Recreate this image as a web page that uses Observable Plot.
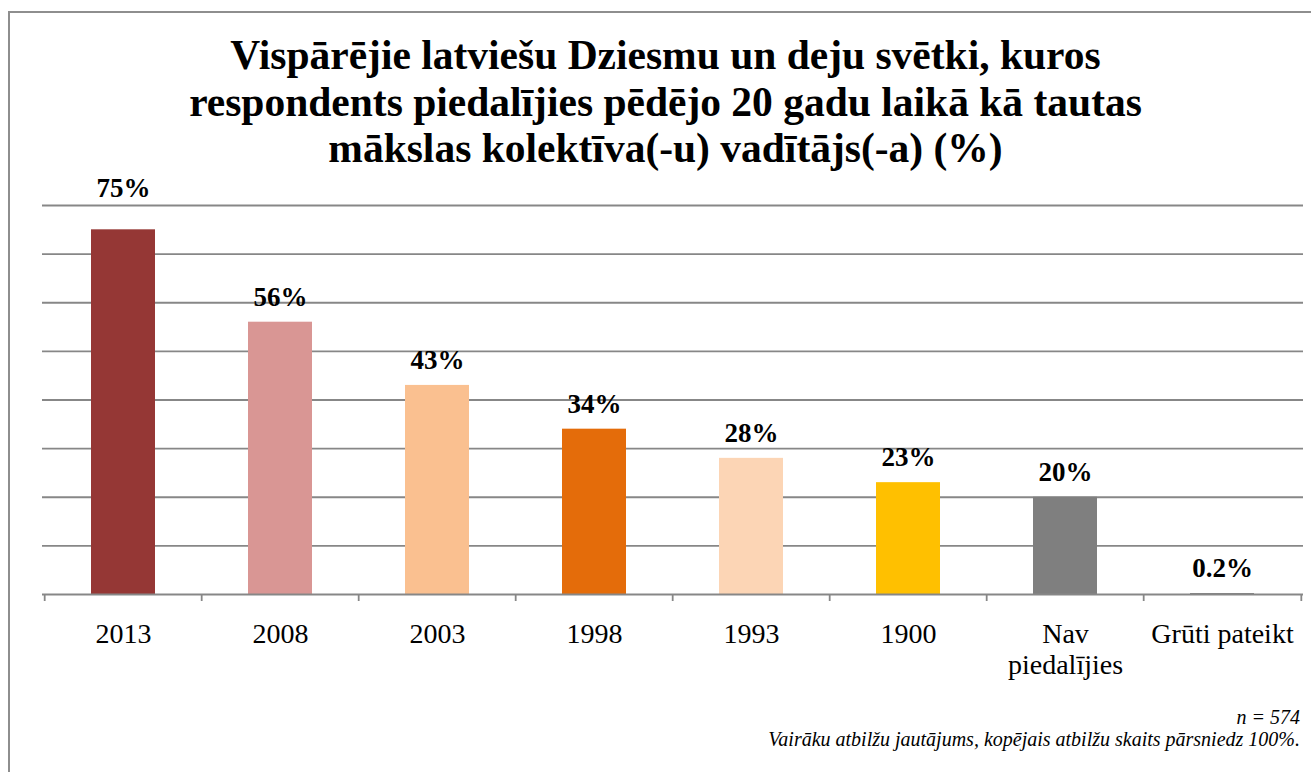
<!DOCTYPE html>
<html>
<head>
<meta charset="utf-8">
<script src="https://cdn.jsdelivr.net/npm/d3@7"></script>
<script src="https://cdn.jsdelivr.net/npm/@observablehq/plot@0.6"></script>
<style>
  html, body { margin: 0; padding: 0; background: #fff; }
  #wrap { position: relative; width: 1311px; height: 772px; overflow: hidden; background: #fff; font-family: "Liberation Serif", serif; }
  #frame { position: absolute; left: 8px; top: 11px; width: 1400px; height: 800px; border-left: 2px solid #8e8e8e; border-top: 2px solid #8e8e8e; box-sizing: border-box; }
  #title { position: absolute; left: 20px; width: 1291px; top: 32px; text-align: center; font-weight: bold; font-size: 41.5px; line-height: 46.5px; color: #000; }
  #chart { position: absolute; left: 0; top: 170px; }
  #note { position: absolute; right: 11px; top: 706px; text-align: right; font-style: italic; font-size: 20px; line-height: 22px; color: #000; }
</style>
</head>
<body>
<div id="wrap">
  <div id="frame"></div>
  <div id="title">Vispārējie latviešu Dziesmu un deju svētki, kuros<br>respondents piedalījies pēdējo 20 gadu laikā kā tautas<br>mākslas kolektīva(-u) vadītājs(-a) (%)</div>
  <div id="chart"></div>
  <div id="note">n = 574<br>Vairāku atbilžu jautājums, kopējais atbilžu skaits pārsniedz 100%.</div>
</div>
<script>
const categories = ["2013", "2008", "2003", "1998", "1993", "1900", "Nav piedalījies", "Grūti pateikt"];
const values = [75, 56, 43, 34, 28, 23, 20, 0.2];
const valueLabels = ["75%", "56%", "43%", "34%", "28%", "23%", "20%", "0.2%"];
const barColors = ["#953735", "#D99694", "#FAC090", "#E46C0A", "#FCD5B5", "#FFC000", "#7F7F7F", "#7F7F7F"];
const gridValues = [10, 20, 30, 40, 50, 60, 70, 80];
const tickLabels = {"Nav piedalījies": "Nav\npiedalījies"};

const data = categories.map((c, i) => ({category: c, value: values[i], label: valueLabels[i], color: barColors[i]}));
const maxValue = d3.max(values);

const W = 1311, H = 510, mL = 42, mR = 8, mT = 35, mB = 86;
const step = (W - mL - mR) / categories.length;
const fontFam = "Liberation Serif, serif";
const labelStyle = {x: "category", y: "value", text: "label", lineAnchor: "middle", fontSize: 27, fontWeight: "bold", fill: "#000"};

const plot = Plot.plot({
  width: W,
  height: H,
  marginLeft: mL,
  marginRight: mR,
  marginTop: mT,
  marginBottom: mB,
  style: {fontFamily: fontFam, background: "transparent", overflow: "visible"},
  x: {domain: categories, padding: 0.594, paddingOuter: 0.297, align: 0.5, label: null},
  y: {domain: [0, 80], label: null, axis: null},
  color: {type: "identity"},
  marks: [
    Plot.ruleY(gridValues, {stroke: "#878787", strokeWidth: 1.8}),
    Plot.barY(data, {x: "category", y: "value", fill: "color"}),
    Plot.ruleY([0], {stroke: "#878787", strokeWidth: 1.8}),
    Plot.ruleX(categories, {x: d => d, y1: 0, y2: 0, insetBottom: -7, dx: -step / 2, stroke: "#878787", strokeWidth: 1.8}),
    Plot.ruleX(categories.slice(-1), {x: d => d, y1: 0, y2: 0, insetBottom: -7, dx: step / 2, stroke: "#878787", strokeWidth: 1.8}),
    Plot.axisX({tickSize: 0, tickPadding: 27, fontSize: 28, fill: "#000", lineHeight: 1.1, tickFormat: d => tickLabels[d] || d, label: null}),
    Plot.text(data.filter(d => d.value !== maxValue), {...labelStyle, dy: -25}),
    Plot.text(data.filter(d => d.value === maxValue), {...labelStyle, dy: -41})
  ]
});
document.getElementById("chart").appendChild(plot);
</script>
</body>
</html>
